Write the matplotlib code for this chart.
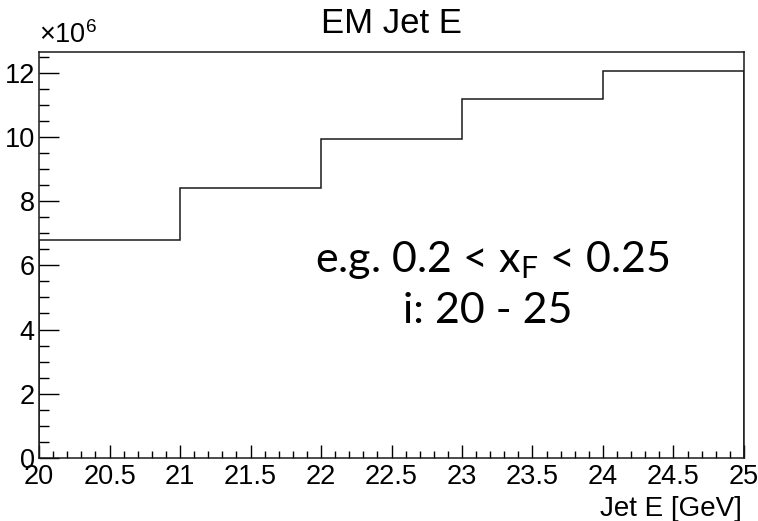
import matplotlib.pyplot as plt
import numpy as np

# bin edges and contents of the jet energy histogram (in units of 1e6)
bin_edges = [20, 21, 22, 23, 24, 25]
counts = [6.80, 8.43, 9.93, 11.19, 12.07]

title = "EM Jet E"
x_label = "Jet E [GeV]"

root_font = "Liberation Sans"
note_font = "Lato"

fig = plt.figure(figsize=(7.58, 5.21), dpi=100)
ax = fig.add_axes([0.0515, 0.1215, 0.930, 0.7787])

ax.stairs(counts, bin_edges, color="#1a1a1a", linewidth=1.1)

ax.set_xlim(20, 25)
ax.set_ylim(0, 12.66)

ax.set_xticks(np.arange(20, 25.01, 0.5))
ax.set_xticks(np.arange(20, 25.01, 0.1), minor=True)
ax.set_xticklabels([f"{v:g}" for v in np.arange(20, 25.01, 0.5)])
ax.set_yticks(np.arange(0, 12.1, 2))
ax.set_yticks(np.arange(0, 12.7, 0.5), minor=True)

ax.tick_params(axis="both", which="both", direction="in", top=False, right=False,
               width=1.0, labelsize=19.5)
ax.tick_params(axis="y", which="major", length=14.4, pad=3.0)
ax.tick_params(axis="y", which="minor", length=7.2)
ax.tick_params(axis="x", which="major", length=9.4, pad=4.5)
ax.tick_params(axis="x", which="minor", length=4.7)
for lbl in ax.get_xticklabels() + ax.get_yticklabels():
    lbl.set_fontfamily(root_font)

for sp in ax.spines.values():
    sp.set_linewidth(1.1)
    sp.set_color("#1a1a1a")

fig.text(0.517, 0.937, title, ha="center", va="baseline", fontsize=25,
         fontfamily=root_font)
fig.text(0.979, 0.010, x_label, ha="right", va="baseline", fontsize=20,
         fontfamily=root_font)
ax.text(0.0, 1.008, r"×10$^{\mathregular{6}}$", transform=ax.transAxes,
        ha="left", va="bottom", fontsize=19.5, fontfamily=root_font)

fig.text(0.649, 0.478, r"e.g. 0.2 < x$_{\mathregular{F}}$ < 0.25", ha="center",
         va="baseline", fontsize=31, fontfamily=note_font)
fig.text(0.643, 0.380, "i: 20 - 25", ha="center", va="baseline", fontsize=31,
         fontfamily=note_font)

fig.savefig("out.png", dpi=100)
